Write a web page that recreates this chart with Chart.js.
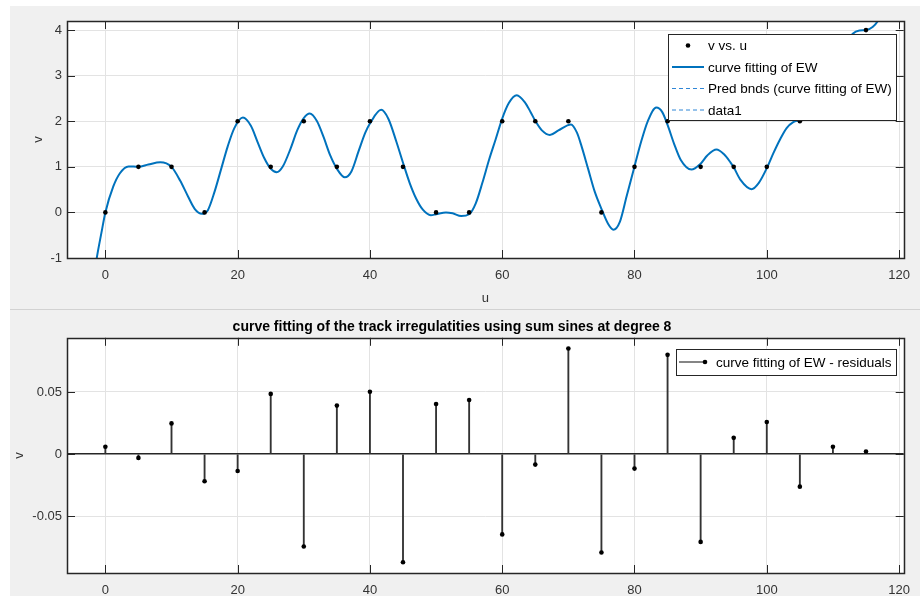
<!DOCTYPE html>
<html>
<head>
<meta charset="utf-8">
<script src="https://cdn.jsdelivr.net/npm/chart.js@4.4.1/dist/chart.umd.min.js"></script>
<style>
  html, body { margin: 0; padding: 0; background: #fff; }
  #page { position: relative; width: 920px; height: 596px; overflow: hidden; }
  #bg { position: absolute; left: 10px; top: 6px; right: 0; bottom: 0; background: #f0f0f0; }
  #sep { position: absolute; left: 10px; right: 0; top: 309px; height: 1px; background: #d2d2d2; }
  #topBox { position: absolute; left: 0; top: 0; width: 920px; height: 308px; }
  #botBox { position: absolute; left: 0; top: 310px; width: 920px; height: 286px; }
</style>
</head>
<body>
<div id="page">
  <div id="bg"></div>
  <div id="sep"></div>
  <div id="topBox"><canvas id="fitChart" width="920" height="308"></canvas></div>
  <div id="botBox"><canvas id="resChart" width="920" height="286"></canvas></div>
</div>
<script>
// measured data (u, v)
const u = [0, 5, 10, 15, 20, 25, 30, 35, 40, 45, 50, 55, 60, 65, 70, 75, 80, 85, 90, 95, 100, 105, 110, 115];
const v = [0, 1, 1, 0, 2, 1, 2, 1, 2, 1, 0, 0, 2, 2, 2, 0, 1, 2, 1, 1, 1, 2, 3, 4];

// fitted curve
const fitU = [-1.7, -1.3, -0.6, 0, 1.2, 2.2, 3.5, 5, 6.5, 8.3, 10, 11.3, 12.5, 13.5, 14.6, 15.5, 16.5, 17.5, 18.5, 19.5,
  20.8, 22, 23, 24, 25, 25.9, 26.8, 28, 29, 30, 30.9, 32, 33, 34, 35, 36.2, 37.2, 38.3, 39.3, 40,
  41.7, 42.8, 44, 45, 46, 47, 48, 49.2, 50, 51.5, 52.5, 53.8, 55, 56, 57, 58, 59, 60, 61, 62.2,
  63.5, 64.3, 65, 66, 67.2, 68.5, 70.4, 71.3, 72, 73, 74, 75, 76, 76.8, 77.8, 78.8, 80, 81, 82, 83.3,
  84.2, 85, 86, 87, 88.6, 90, 91, 92.4, 93.5, 94.5, 95, 96, 97.7, 98.8, 100, 101, 102, 103, 104, 105,
  106.5, 108, 110, 111, 112, 113, 114, 115, 116, 116.8, 117.3];
const fitV = [-1.4, -1.0, -0.45, 0, 0.57, 0.86, 1.01, 1.0, 1.05, 1.1, 1.0, 0.7, 0.35, 0.08, -0.03, 0.05, 0.45, 0.95, 1.45, 1.85,
  2.08, 1.9, 1.55, 1.2, 0.96, 0.88, 1.0, 1.4, 1.8, 2.07, 2.17, 2.0, 1.65, 1.25, 0.96, 0.77, 0.9, 1.35, 1.75, 1.95,
  2.25, 2.05, 1.55, 1.09, 0.65, 0.3, 0.06, -0.06, -0.04, 0.0, -0.02, -0.08, -0.04, 0.2, 0.65, 1.15, 1.6, 2.06, 2.4, 2.57,
  2.4, 2.2, 2.01, 1.8, 1.7, 1.8, 1.93, 1.75, 1.45, 0.95, 0.45, 0.08, -0.25, -0.38, -0.2, 0.35, 1.01, 1.55, 2.0, 2.3,
  2.2, 1.92, 1.5, 1.15, 0.94, 1.07, 1.25, 1.38, 1.28, 1.1, 0.99, 0.72, 0.51, 0.65, 0.97, 1.3, 1.6, 1.85, 1.98, 2.03,
  2.15, 2.45, 2.99, 3.35, 3.7, 3.92, 3.99, 4.0, 4.07, 4.2, 4.35];

// residuals at each u
const residuals = [0.0059, -0.003, 0.0247, -0.0218, -0.0135, 0.0484, -0.0742, 0.039, 0.0502, -0.0869, 0.0403, 0.0435,
  -0.0645, -0.0084, 0.0849, -0.079, -0.0116, 0.0798, -0.0705, 0.0131, 0.0258, -0.0261, 0.0059, 0.0021];

const xRange = [-5.8, 120.7];
const yRangeFit = [-1, 4.2];
const yRangeRes = [-0.0955, 0.0935];

const pts = (xs, ys) => xs.map((x, i) => ({x: x, y: ys[i]}));

Chart.defaults.font.family = "'Liberation Sans', Arial, sans-serif";
Chart.defaults.font.size = 13;
Chart.defaults.color = '#333';

const axesFrame = {
  id: 'axesFrame',
  beforeDraw(chart) {
    const {ctx, chartArea: a} = chart;
    ctx.save();
    ctx.fillStyle = '#fff';
    ctx.fillRect(a.left, a.top, a.right - a.left, a.bottom - a.top);
    ctx.restore();
  },
  afterDatasetsDraw(chart) {
    const {ctx, chartArea: a, scales: {x, y}} = chart;
    ctx.save();
    ctx.strokeStyle = '#262626';
    ctx.lineWidth = 1;
    ctx.beginPath();
    x.ticks.forEach(t => {
      const px = Math.round(x.getPixelForValue(t.value)) + 0.5;
      ctx.moveTo(px, a.bottom); ctx.lineTo(px, a.bottom - 8);
      ctx.moveTo(px, a.top); ctx.lineTo(px, a.top + 8);
    });
    y.ticks.forEach(t => {
      const py = Math.round(y.getPixelForValue(t.value)) + 0.5;
      ctx.moveTo(a.left, py); ctx.lineTo(a.left + 8, py);
      ctx.moveTo(a.right, py); ctx.lineTo(a.right - 8, py);
    });
    ctx.stroke();
    ctx.lineWidth = 1.5;
    ctx.strokeRect(Math.round(a.left) + 0.5, Math.round(a.top) + 0.5,
      Math.round(a.right - a.left), Math.round(a.bottom - a.top));
    ctx.restore();
  }
};

const boxLegend = {
  id: 'boxLegend',
  afterDraw(chart, args, o) {
    if (!o || !o.display) return;
    const ctx = chart.ctx;
    ctx.save();
    ctx.fillStyle = '#fff';
    ctx.fillRect(o.left, o.top, o.width, o.height);
    ctx.strokeStyle = '#262626';
    ctx.lineWidth = 1;
    ctx.strokeRect(o.left + 0.5, o.top + 0.5, o.width, o.height);
    ctx.font = "13.5px 'Liberation Sans', Arial, sans-serif";
    ctx.textBaseline = 'middle';
    let row = 0;
    chart.data.datasets.forEach(ds => {
      if (ds.legendSkip) return;
      const y = o.top + o.firstRow + row * o.rowHeight;
      const x0 = o.left + o.sampleStart, x1 = o.left + o.sampleEnd;
      if (ds.showLine === false) {
        ctx.fillStyle = ds.pointBackgroundColor;
        ctx.beginPath();
        ctx.arc((x0 + x1) / 2, y, ds.pointRadius, 0, Math.PI * 2);
        ctx.fill();
      } else {
        ctx.strokeStyle = ds.legendColor || ds.borderColor;
        ctx.lineWidth = ds.legendWidth || ds.borderWidth || 1;
        ctx.setLineDash(ds.borderDash || []);
        ctx.beginPath();
        ctx.moveTo(x0, y); ctx.lineTo(x1, y);
        ctx.stroke();
        ctx.setLineDash([]);
        if (ds.legendDot) {
          ctx.fillStyle = '#000';
          ctx.beginPath();
          ctx.arc(x1, y, 2.3, 0, Math.PI * 2);
          ctx.fill();
        }
      }
      ctx.fillStyle = '#000';
      ctx.fillText(ds.label, o.left + o.textStart, y + 1);
      row++;
    });
    ctx.restore();
  }
};

// top: data + fitted curve
new Chart(document.getElementById('fitChart'), {
  type: 'scatter',
  data: {
    datasets: [
      { label: 'v vs. u', data: pts(u, v), showLine: false, pointRadius: 2.3,
        pointBackgroundColor: '#000', pointBorderWidth: 0, order: 0 },
      { label: 'curve fitting of EW', data: pts(fitU, fitV), showLine: true, pointRadius: 0,
        borderColor: '#0072BD', borderWidth: 2, cubicInterpolationMode: 'monotone', clip: 0, order: 1 },
      { label: 'Pred bnds (curve fitting of EW)', data: [], showLine: true, pointRadius: 0,
        borderColor: '#2f86d6', borderWidth: 1, borderDash: [4, 3] },
      { label: 'data1', data: [], showLine: true, pointRadius: 0,
        borderColor: '#2f86d6', borderWidth: 1, borderDash: [4, 3] }
    ]
  },
  options: {
    responsive: false, animation: false, devicePixelRatio: 1,
    layout: { padding: { top: 21, right: 16, left: 0, bottom: 0 } },
    plugins: {
      legend: { display: false }, tooltip: { enabled: false },
      boxLegend: { display: true, left: 668, top: 34, width: 228, height: 86, firstRow: 11.5,
        rowHeight: 21.5, sampleStart: 4, sampleEnd: 36, textStart: 40 }
    },
    scales: {
      x: {
        type: 'linear', min: xRange[0], max: xRange[1],
        ticks: { stepSize: 20, includeBounds: false, padding: 10, maxRotation: 0 },
        grid: { color: '#e3e3e3', drawTicks: false }, border: { display: false },
        title: { display: true, text: 'u', padding: { top: 0, bottom: 2 } },
        afterFit: s => { s.height = 50; }
      },
      y: {
        min: yRangeFit[0], max: yRangeFit[1],
        ticks: { stepSize: 1, includeBounds: false, padding: 5 },
        grid: { color: '#e3e3e3', drawTicks: false }, border: { display: false },
        title: { display: true, text: 'v', padding: { top: 31, bottom: 0 } },
        afterFit: s => { s.width = 67; }
      }
    }
  },
  plugins: [axesFrame, boxLegend]
});

// bottom: residual stems
new Chart(document.getElementById('resChart'), {
  type: 'bar',
  data: {
    datasets: [
      { type: 'bar', label: 'curve fitting of EW - residuals', data: pts(u, residuals),
        backgroundColor: '#333', borderWidth: 0, barThickness: 1.2, grouped: false,
        borderColor: '#333', legendWidth: 1.2, legendDot: true, order: 1 },
      { type: 'scatter', label: 'dots', data: pts(u, residuals), showLine: false, pointRadius: 2.3,
        pointBackgroundColor: '#000', pointBorderWidth: 0, legendSkip: true, order: 0 }
    ]
  },
  options: {
    responsive: false, animation: false, devicePixelRatio: 1,
    layout: { padding: { top: 0, right: 16, left: 0, bottom: 0 } },
    plugins: {
      legend: { display: false }, tooltip: { enabled: false },
      title: { display: true, text: 'curve fitting of the track irregulatities using sum sines at degree 8',
        color: '#000', font: { size: 14, weight: 'bold' }, padding: { top: 9, bottom: 2 } },
      boxLegend: { display: true, left: 676, top: 39, width: 220, height: 26, firstRow: 13,
        rowHeight: 21.5, sampleStart: 3, sampleEnd: 29, textStart: 40 }
    },
    scales: {
      x: {
        type: 'linear', min: xRange[0], max: xRange[1], offset: false,
        ticks: { stepSize: 20, includeBounds: false, padding: 10, maxRotation: 0 },
        grid: { color: '#e3e3e3', drawTicks: false, offset: false }, border: { display: false },
        afterFit: s => { s.height = 23; }
      },
      y: {
        min: yRangeRes[0], max: yRangeRes[1],
        ticks: { stepSize: 0.05, includeBounds: false, padding: 5, callback: val => String(+val.toFixed(3)) },
        grid: {
          color: c => (c.tick && c.tick.value === 0 ? '#262626' : '#e3e3e3'),
          lineWidth: c => (c.tick && c.tick.value === 0 ? 1.5 : 1),
          drawTicks: false
        },
        border: { display: false },
        title: { display: true, text: 'v', padding: { top: 12, bottom: 0 } },
        afterFit: s => { s.width = 67; }
      }
    }
  },
  plugins: [axesFrame, boxLegend]
});
</script>
</body>
</html>
